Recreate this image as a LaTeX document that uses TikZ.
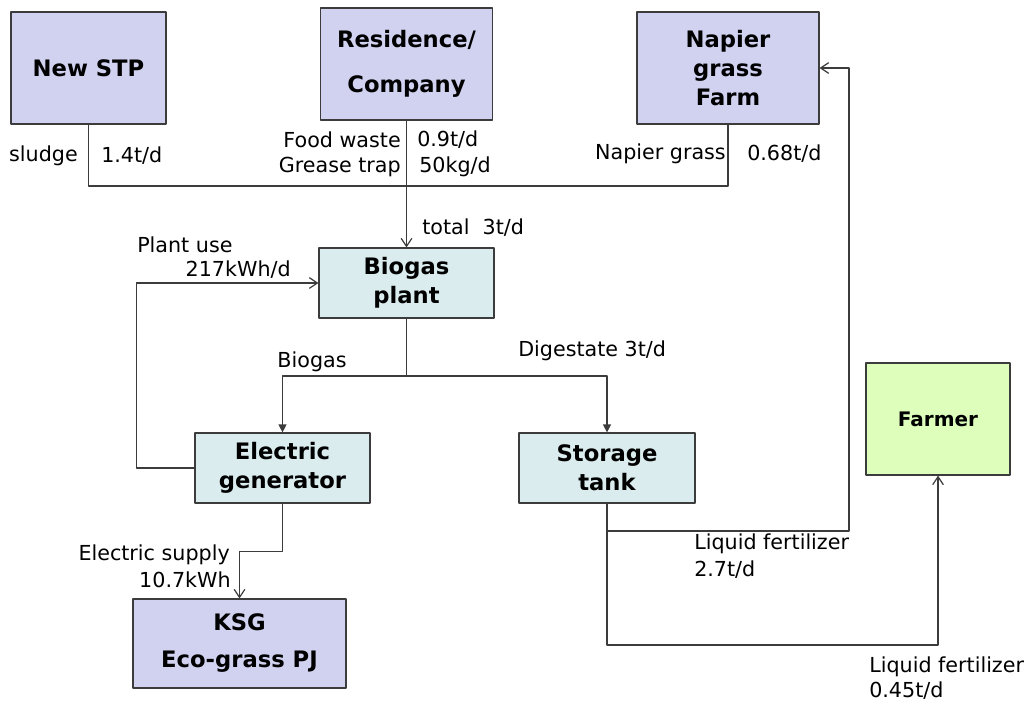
\documentclass[tikz,border=0pt]{standalone}
\usepackage{fontspec}
\setmainfont{DejaVu Sans}
\usetikzlibrary{arrows.meta}
\definecolor{lavender}{RGB}{208,210,240}
\definecolor{paleblue}{RGB}{218,236,238}
\definecolor{palegreen}{RGB}{222,255,188}
\definecolor{edgegray}{RGB}{60,60,60}
\tikzset{
  box/.style={draw=edgegray,line width=0.9pt,inner sep=0pt,align=center,font=\bfseries\fontsize{17}{21.75}\selectfont},
  site/.style={box,fill=lavender},
  unitbox/.style={box,fill=paleblue},
  farmbox/.style={box,fill=palegreen,font=\bfseries\fontsize{15}{19}\selectfont},
  lbl/.style={font=\fontsize{15.5}{19}\selectfont,inner sep=0pt},
  flow/.style={draw=edgegray,line width=0.9pt},
  barb/.style={flow,-{Straight Barb[length=6pt,width=8pt]}},
  tri/.style={flow,-{Triangle[length=6pt,width=6pt]}}
}
\begin{document}
\begin{tikzpicture}[x=0.75pt,y=-0.75pt,line join=round,line cap=round]
		\useasboundingbox (0,0) rectangle (1028,704);
		% sources
		\node[site,minimum width=116.25pt,minimum height=84pt] (stp) at (88.5,68) {New STP};
		\node[site,minimum width=129pt,minimum height=84pt] (res) at (406.5,64) {Residence/\\[12pt]Company};
		\node[site,minimum width=136.5pt,minimum height=84pt] (nap) at (728,68) {Napier\\grass\\Farm};
		% plant
		\node[unitbox,minimum width=131.25pt,minimum height=52.5pt] (bio) at (406.5,283) {Biogas\\plant};
		\node[unitbox,minimum width=131.25pt,minimum height=52.5pt] (gen) at (282.5,468) {Electric\\generator};
		\node[unitbox,minimum width=132pt,minimum height=52.5pt] (tank) at (607,468) {Storage\\tank};
		% users
		\node[farmbox,minimum width=108pt,minimum height=84pt] (farm) at (938,419) {Farmer};
		\node[site,minimum width=159.75pt,minimum height=66.75pt] (ksg) at (239.5,643.5) {KSG\\[6pt]Eco-grass PJ};
		% connectors
		\coordinate (mix) at (406.5,186);
		\coordinate (split) at (406.5,376);
		\coordinate (back) at (849,531);
		\coordinate (low) at (938,645);
		\draw[flow] (stp.south) |- (mix) -| (nap.south);
		\draw[barb] (res.south) -- (bio.north);
		\draw[flow] (bio.south) -- (split);
		\draw[tri] (split) -| (gen.north);
		\draw[tri] (split) -| (tank.north);
		\draw[barb] (gen.west) -- ++(-58,0) |- (bio.west);
		\draw[barb] (gen.south) -- ++(0,48) -| (ksg.north);
		\draw[barb] (tank.south) |- (back) |- (nap.east);
		\draw[barb] (tank.south) |- (low) -- (farm.south);
		% labels
		\node[lbl,anchor=east] (sl) at (78,156) {sludge};
		\node[lbl,anchor=west] (slq) at (101,156) {1.4t/d};
		\node[lbl,anchor=east] (fw) at (401,140) {Food waste};
		\node[lbl,anchor=west] (fwq) at (417,140) {0.9t/d};
		\node[lbl,anchor=east] (gt) at (401,167) {Grease trap};
		\node[lbl,anchor=west] (gtq) at (419,167) {50kg/d};
		\node[lbl,anchor=east] (ng) at (726,154) {Napier grass};
		\node[lbl,anchor=west] (ngq) at (747,154) {0.68t/d};
		\node[lbl,anchor=west] (tot) at (422,228) {total\ \ 3t/d};
		\node[lbl,anchor=west] (pu) at (137,245) {Plant use};
		\node[lbl,anchor=east] (puq) at (291,270) {217kWh/d};
		\node[lbl] (bg) at (312,362) {Biogas};
		\node[lbl,anchor=west] (dg) at (518,351) {Digestate 3t/d};
		\node[lbl,anchor=east] (es) at (230,555) {Electric supply};
		\node[lbl,anchor=east] (esq) at (231,580) {10.7kWh};
		\node[lbl,anchor=west] (lf) at (694,544) {Liquid fertilizer};
		\node[lbl,anchor=west] (lfq) at (694,570) {2.7t/d};
		\node[lbl,anchor=west] (lf2) at (869,667) {Liquid fertilizer};
		\node[lbl,anchor=west] (lf2q) at (869,691) {0.45t/d};
\end{tikzpicture}
\end{document}
